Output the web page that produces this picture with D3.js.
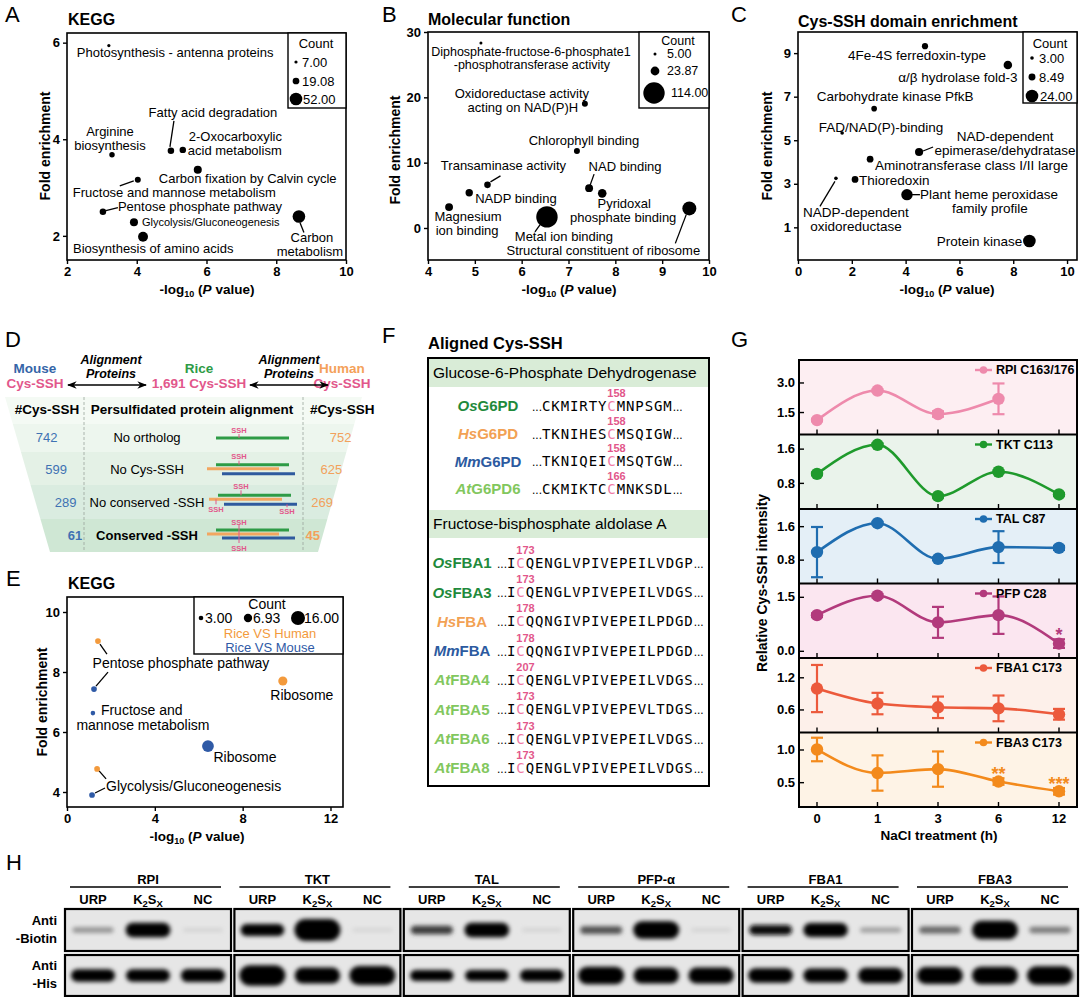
<!DOCTYPE html>
<html>
<head>
<meta charset="utf-8">
<script src="https://cdn.jsdelivr.net/npm/d3@7/dist/d3.min.js"></script>
<style>
  body { margin: 0; background: #fff; }
  svg { display: block; }
</style>
</head>
<body>
<svg id="fig" width="1080" height="997"></svg>
<script>
// ---------- data ----------
// A: KEGG enrichment of rice Cys-SSH proteins
const keggTerms = ['Photosynthesis - antenna proteins', 'Arginine biosynthesis', 'Fatty acid degradation',
  '2-Oxocarboxylic acid metabolism', 'Carbon fixation by Calvin cycle', 'Fructose and mannose metabolism',
  'Pentose phosphate pathway', 'Glycolysis/Gluconeogenesis', 'Biosynthesis of amino acids', 'Carbon metabolism'];
const keggLogP = [3.20, 3.29, 4.98, 5.32, 5.75, 4.03, 3.03, 3.92, 4.18, 8.65];
const keggFold = [5.94, 3.68, 3.76, 3.78, 3.37, 3.16, 2.50, 2.28, 1.98, 2.40];
const keggCount = [7, 14, 18, 18, 25, 16, 18, 25, 35, 52];
const keggLegend = [7.00, 19.08, 52.00];

// B: molecular function
const mfTerms = ['Diphosphate-fructose-6-phosphate1-phosphotransferase activity', 'Oxidoreductase activity acting on NAD(P)H',
  'Chlorophyll binding', 'Transaminase activity', 'NADP binding', 'Magnesium ion binding', 'Metal ion binding',
  'NAD binding', 'Pyridoxal phosphate binding', 'Structural constituent of ribosome'];
const mfLogP = [5.13, 7.35, 7.18, 5.27, 4.88, 4.45, 6.54, 7.44, 7.72, 9.58];
const mfFold = [28.3, 19.0, 11.8, 6.6, 5.4, 3.2, 1.7, 6.1, 5.3, 3.0];
const mfCount = [5, 13, 13, 15, 18, 20, 114, 20, 23, 53];
const mfLegend = [5.00, 23.87, 114.00];

// C: Cys-SSH domain enrichment
const domTerms = ['4Fe-4S ferredoxin-type', 'α/β hydrolase fold-3', 'Carbohydrate kinase PfkB', 'FAD/NAD(P)-binding',
  'NAD-dependent epimerase/dehydratase', 'Aminotransferase class I/II large', 'Thioredoxin',
  'NADP-dependent oxidoreductase', 'Plant heme peroxidase family profile', 'Protein kinase'];
const domLogP = [4.72, 7.80, 2.83, 1.64, 4.50, 2.68, 2.12, 1.41, 4.05, 8.60];
const domFold = [9.32, 8.45, 6.45, 5.33, 4.46, 4.13, 3.20, 3.25, 2.50, 0.37];
const domCount = [7, 12, 6, 3, 11, 8, 8, 3, 20, 24];
const domLegend = [3.00, 8.49, 24.00];

// D: alignment of persulfidated proteins
const alignClasses = ['No ortholog', 'No Cys-SSH', 'No conserved -SSH', 'Conserved -SSH'];
const mouseCysSSH = [742, 599, 289, 61];
const humanCysSSH = [752, 625, 269, 45];

// E: KEGG of conserved Cys-SSH
const eTerms = ['Pentose phosphate pathway', 'Fructose and mannose metabolism', 'Ribosome', 'Glycolysis/Gluconeogenesis'];
const humanLogP = [1.41, null, 9.83, 1.37];
const humanFold = [9.03, null, 7.70, 4.77];
const humanCount = [4, null, 8, 4];
const mouseLogP = [1.23, 1.18, 6.42, 1.14];
const mouseFold = [7.43, 6.63, 5.53, 3.90];
const mouseCount = [4, 3, 12, 4];
const eLegend = [3.00, 6.93, 16.00];

// F: aligned Cys-SSH sites
const g6pdNames = ['OsG6PD', 'HsG6PD', 'MmG6PD', 'AtG6PD6'];
const g6pdBefore = ['CKMIRTY', 'TKNIHES', 'TKNIQEI', 'CKMIKTC'];
const g6pdAfter = ['MNPSGM', 'MSQIGW', 'MSQTGW', 'MNKSDL'];
const g6pdSite = [158, 158, 158, 166];
const fbaNames = ['OsFBA1', 'OsFBA3', 'HsFBA', 'MmFBA', 'AtFBA4', 'AtFBA5', 'AtFBA6', 'AtFBA8'];
const fbaBefore = ['I', 'I', 'I', 'I', 'I', 'I', 'I', 'I'];
const fbaAfter = ['QENGLVPIVEPEILVDGP', 'QENGLVPIVEPEILVDGS', 'QQNGIVPIVEPEILPDGD', 'QQNGIVPIVEPEILPDGD',
  'QENGLVPIVEPEILVDGS', 'QENGLVPIVEPEVLTDGS', 'QENGLVPIVEPEILVDGS', 'QENGLVPIVEPEILVDGS'];
const fbaSite = [173, 173, 178, 178, 207, 173, 173, 173];

// G: relative Cys-SSH intensity under NaCl
const naclHours = ['0', '1', '3', '6', '12'];
const rpiMean = [1.09, 2.59, 1.40, 2.17, null];
const rpiErr = [0.06, 0.06, 0.14, 0.78, null];
const tktMean = [1.01, 1.69, 0.49, 1.06, 0.53];
const tktErr = [0.03, 0.03, 0.03, 0.03, 0.03];
const talMean = [0.98, 1.67, 0.82, 1.10, 1.08];
const talErr = [0.60, 0.03, 0.03, 0.38, 0.05];
const pfpMean = [0.99, 1.53, 0.79, 0.99, 0.20];
const pfpErr = [0.05, 0.05, 0.43, 0.52, 0.12];
const pfpSig = ['', '', '', '', '*'];
const fba1Mean = [0.99, 0.71, 0.64, 0.62, 0.51];
const fba1Err = [0.44, 0.20, 0.20, 0.24, 0.10];
const fba3Mean = [1.00, 0.64, 0.70, 0.51, 0.36];
const fba3Err = [0.18, 0.27, 0.27, 0.05, 0.05];
const fba3Sig = ['', '', '', '**', '***'];

// H: western blots (relative band amount per lane)
const blotTargets = ['RPI', 'TKT', 'TAL', 'PFP-α', 'FBA1', 'FBA3'];
const blotLanes = ['URP', 'K2SX', 'NC'];
const biotinBands = [[0.35, 1.6, 0.06], [1.2, 2.6, 0.05], [0.75, 1.6, 0.06], [0.65, 2.0, 0.06], [0.95, 1.5, 0.3], [0.55, 2.1, 0.45]];
const hisBands = [[1.3, 1.3, 1.4], [2.4, 1.8, 2.2], [1.1, 1.1, 1.2], [2.0, 1.8, 1.8], [1.6, 1.5, 1.7], [1.9, 2.0, 2.1]];

// ---------- setup ----------
const FONT = '"Liberation Sans", Arial, Helvetica, sans-serif';
const MONO = '"DejaVu Sans Mono", "Liberation Mono", monospace';
const PINK = '#e2578b';
const svg = d3.select('#fig').attr('font-family', FONT);
const defs = svg.append('defs');

defs.append('marker').attr('id', 'arrowhead')
  .attr('viewBox', '0 0 10 10').attr('refX', 9).attr('refY', 5)
  .attr('markerWidth', 6).attr('markerHeight', 6).attr('orient', 'auto-start-reverse')
  .append('path').attr('d', 'M0,1 L10,5 L0,9 L3,5 Z').attr('fill', '#000');

defs.append('filter').attr('id', 'blur')
  .attr('x', '-50%').attr('y', '-150%').attr('width', '200%').attr('height', '400%')
  .append('feGaussianBlur').attr('stdDeviation', 2.2);

function styleAxis(a) {
  a.attr('font-family', FONT).attr('font-size', 13).attr('font-weight', 'bold');
  a.select('.domain').remove();
  a.selectAll('.tick line').attr('stroke', '#000').attr('stroke-width', 1.4);
  a.selectAll('.tick text').attr('fill', '#000');
}

function letter(ch, x, y) {
  svg.append('text').attr('x', x).attr('y', y).attr('font-size', 22).text(ch);
}

function pvalTitle(g, x, y) {
  const t = g.append('text').attr('x', x).attr('y', y).attr('text-anchor', 'middle')
    .attr('font-weight', 'bold').attr('font-size', 13.5);
  t.append('tspan').text('-log');
  t.append('tspan').attr('font-size', 9).attr('dy', 3).text('10');
  t.append('tspan').attr('dy', -3).text(' (');
  t.append('tspan').attr('font-style', 'italic').text('P');
  t.append('tspan').text(' value)');
}

function vTitle(g, x, y, txt) {
  g.append('text').attr('transform', `translate(${x},${y}) rotate(-90)`)
    .attr('text-anchor', 'middle').attr('dy', '0.35em')
    .attr('font-weight', 'bold').attr('font-size', 14).text(txt);
}

// bubble chart used by A, B, C and E
function bubblePanel(cfg) {
  const g = svg.append('g');
  const [x0, y0, x1, y1] = cfg.box;
  const x = d3.scaleLinear().domain(cfg.xDomain).range([x0, x1]);
  const y = d3.scaleLinear().domain(cfg.yDomain).range([y1, y0]);
  const r = d3.scaleSqrt().domain(cfg.rDomain).range(cfg.rRange);

  g.append('g').attr('transform', `translate(0,${y1})`)
    .call(d3.axisBottom(x).tickValues(cfg.xTicks).tickSize(4).tickPadding(3).tickFormat(d3.format('d')))
    .call(styleAxis);
  g.append('g').attr('transform', `translate(${x0},0)`)
    .call(d3.axisLeft(y).tickValues(cfg.yTicks).tickSize(4).tickPadding(3).tickFormat(d3.format('d')))
    .call(styleAxis);
  g.append('rect').attr('x', x0).attr('y', y0).attr('width', x1 - x0).attr('height', y1 - y0)
    .attr('fill', 'none').attr('stroke', '#000').attr('stroke-width', 1.6);

  g.append('text').attr('x', cfg.titleAt[0]).attr('y', cfg.titleAt[1])
    .attr('font-weight', 'bold').attr('font-size', 16).text(cfg.title);
  pvalTitle(g, cfg.xTitleAt[0], cfg.xTitleAt[1]);
  vTitle(g, cfg.yTitleAt[0], cfg.yTitleAt[1], 'Fold enrichment');

  // leader lines
  cfg.notes.filter(n => n.lead).forEach(n => {
    const s = cfg.series[n.s || 0];
    const px = x(s.x[n.i]), py = y(s.y[n.i]);
    g.append('line').attr('x1', px + n.lead[0]).attr('y1', py + n.lead[1])
      .attr('x2', px + n.lead[2]).attr('y2', py + n.lead[3])
      .attr('stroke', '#000').attr('stroke-width', 1.3);
  });

  cfg.series.forEach(s => {
    const idx = d3.range(s.x.length).filter(i => s.x[i] != null);
    g.selectAll(null).data(idx).join('circle')
      .attr('cx', i => x(s.x[i])).attr('cy', i => y(s.y[i])).attr('r', i => r(s.n[i]))
      .attr('fill', s.color);
  });

  // legend
  const L = cfg.legend;
  g.append('rect').attr('x', L.box[0]).attr('y', L.box[1])
    .attr('width', L.box[2] - L.box[0]).attr('height', L.box[3] - L.box[1])
    .attr('fill', '#fff').attr('stroke', '#000').attr('stroke-width', 1.4);
  g.append('text').attr('x', L.countAt[0]).attr('y', L.countAt[1]).attr('dy', '0.35em')
    .attr('text-anchor', 'middle').attr('font-size', L.size).text('Count');
  L.values.forEach((v, k) => {
    const dx = L.dotX[k], dy = L.rowY[k];
    g.append('circle').attr('cx', dx).attr('cy', dy).attr('r', r(v)).attr('fill', '#000');
    g.append('text').attr('x', L.textX[k]).attr('y', dy).attr('dy', '0.35em')
      .attr('font-size', L.size).text(d3.format('.2f')(v));
  });
  (L.keys || []).forEach(k => {
    g.append('text').attr('x', k.at[0]).attr('y', k.at[1]).attr('dy', '0.35em')
      .attr('text-anchor', 'middle').attr('font-size', L.keySize || L.size).attr('fill', k.color).text(k.text);
  });

  cfg.notes.forEach(n => {
    const s = cfg.series[n.s || 0];
    const px = x(s.x[n.i]), py = y(s.y[n.i]);
    n.lines.forEach(([t, dx, dy, anchor]) => {
      g.append('text').attr('x', px + dx).attr('y', py + dy).attr('dy', '0.35em')
        .attr('text-anchor', anchor || 'middle').attr('font-size', n.size || cfg.labelSize).text(t);
    });
  });
  return g;
}

// ---------- A ----------
letter('A', 5, 22);
bubblePanel({
  box: [67, 33, 346, 260], xDomain: [2, 10], yDomain: [1.5, 6.2],
  xTicks: [2, 4, 6, 8, 10], yTicks: [2, 4, 6], rDomain: [7, 52], rRange: [1.6, 6.3],
  title: 'KEGG', titleAt: [68, 25], xTitleAt: [207, 294], yTitleAt: [45, 146], labelSize: 13,
  series: [{ x: keggLogP, y: keggFold, n: keggCount, color: '#000' }],
  notes: [
    { i: 0, lines: [['Photosynthesis - antenna proteins', -32, 7, 'start']] },
    { i: 1, lines: [['Arginine', -2, -23], ['biosynthesis', -2, -9]] },
    { i: 2, lines: [['Fatty acid degradation', 42, -38]], lead: [-1, -4, 3, -30] },
    { i: 3, lines: [['2-Oxocarboxylic', 6, -13, 'start'], ['acid metabolism', 5, 1, 'start']] },
    { i: 4, lines: [['Carbon fixation by Calvin cycle', -39, 9, 'start']] },
    { i: 5, lines: [['Fructose and mannose metabolism', -65, 13, 'start']], lead: [-4, 1, -18, 6] },
    { i: 6, lines: [['Pentose phosphate pathway', 15, -5, 'start']], lead: [3, -1, 15, -4] },
    { i: 7, lines: [['Glycolysis/Gluconeogenesis', 8, 0, 'start']], size: 11 },
    { i: 8, lines: [['Biosynthesis of amino acids', -70, 12, 'start']] },
    { i: 9, lines: [['Carbon', 13, 21], ['metabolism', 11, 35]], lead: [1, 6, 5, 16] }
  ],
  legend: { box: [288, 33, 346, 108], countAt: [316, 43], size: 13, values: keggLegend,
    rowY: [62, 81, 99], dotX: [296, 296, 296], textX: [302, 302, 303] }
});

// ---------- B ----------
letter('B', 382, 22);
bubblePanel({
  box: [428, 32, 709, 260], xDomain: [4, 10], yDomain: [-4.9, 30],
  xTicks: [4, 5, 6, 7, 8, 9, 10], yTicks: [0, 10, 20, 30], rDomain: [5, 114], rRange: [1.5, 10.7],
  title: 'Molecular function', titleAt: [428, 25], xTitleAt: [569, 294], yTitleAt: [395, 150], labelSize: 13,
  series: [{ x: mfLogP, y: mfFold, n: mfCount, color: '#000' }],
  notes: [
    { i: 0, lines: [['Diphosphate-fructose-6-phosphate1', 50, 9], ['-phosphotransferase activity', 51, 22]], size: 12.5 },
    { i: 1, lines: [['Oxidoreductase activity', -63, -10], ['acting on NAD(P)H', -62, 4]] },
    { i: 2, lines: [['Chlorophyll binding', 7, -10]] },
    { i: 3, lines: [['Transaminase activity', 16, -19]], lead: [3, -3, 13, -9] },
    { i: 4, lines: [['NADP binding', 6, 6, 'start']] },
    { i: 5, lines: [['Magnesium', 19, 9], ['ion binding', 18, 23]] },
    { i: 6, lines: [['Metal ion binding', 17, 20]], lead: [-7, 8, -12, 15] },
    { i: 7, lines: [['NAD binding', 36, -22]], lead: [1, -3, 5, -14] },
    { i: 8, lines: [['Pyridoxal', 22, 10], ['phosphate binding', 21, 24]] },
    { i: 9, lines: [['Structural constituent of ribosome', -86, 42]], lead: [-3, 6, -14, 35] }
  ],
  legend: { box: [639, 32, 709, 108], countAt: [678, 41], size: 12.5, values: mfLegend,
    rowY: [54, 71, 93], dotX: [655, 655, 654], textX: [667, 667, 671] }
});

// ---------- C ----------
letter('C', 731, 22);
bubblePanel({
  box: [798, 32, 1077, 260], xDomain: [0, 10.37], yDomain: [-0.5, 9.97],
  xTicks: [0, 2, 4, 6, 8, 10], yTicks: [1, 3, 5, 7, 9], rDomain: [3, 24], rRange: [1.8, 6.3],
  title: 'Cys-SSH domain enrichment', titleAt: [798, 27], xTitleAt: [947, 294], yTitleAt: [767, 146], labelSize: 13.5,
  series: [{ x: domLogP, y: domFold, n: domCount, color: '#000' }],
  notes: [
    { i: 0, lines: [['4Fe-4S ferredoxin-type', -8, 9]] },
    { i: 1, lines: [['α/β hydrolase fold-3', -50, 12]] },
    { i: 2, lines: [['Carbohydrate kinase PfkB', 21, -12]] },
    { i: 3, lines: [['FAD/NAD(P)-binding', 39, -6]] },
    { i: 4, lines: [['NAD-dependent', 86, -16], ['epimerase/dehydratase', 86, -2]], lead: [4, -1, 14, -5] },
    { i: 5, lines: [['Aminotransferase class I/II large', 5, 6, 'start']] },
    { i: 6, lines: [['Thioredoxin', 4, 1, 'start']] },
    { i: 7, lines: [['NADP-dependent', 20, 34], ['oxidoreductase', 20, 48]], lead: [-1, 3, -16, 28] },
    { i: 8, lines: [['Plant heme peroxidase', 13, 0, 'start'], ['family profile', 83, 14]], lead: [5, 0, 13, 0] },
    { i: 9, lines: [['Protein kinase', -7, 0, 'end']] }
  ],
  legend: { box: [1023, 32, 1077, 103], countAt: [1050, 43], size: 13, values: domLegend,
    rowY: [58, 77, 96], dotX: [1032, 1032, 1032], textX: [1039, 1039, 1040] }
});

// ---------- D ----------
letter('D', 5, 347);
(function () {
  const g = svg.append('g');
  const top = 397, bot = 552;
  const leftEdge = d3.scaleLinear().domain([top, bot]).range([5, 50]);
  const rightEdge = d3.scaleLinear().domain([top, bot]).range([362, 318]);
  const bandsY = [397, 424, 452, 485, 519, 552];
  const bandFill = ['#f4faf4', '#edf6ee', '#e4f1e6', '#daece0', '#cfe7d4'];
  bandFill.forEach((f, k) => {
    const a = bandsY[k], b = bandsY[k + 1];
    g.append('polygon')
      .attr('points', [[leftEdge(a), a], [rightEdge(a), a], [rightEdge(b), b], [leftEdge(b), b]].join(' '))
      .attr('fill', f);
  });
  [84, 303].forEach(xv => g.append('line').attr('x1', xv).attr('x2', xv).attr('y1', top).attr('y2', bot)
    .attr('stroke', '#9aa59c').attr('stroke-width', 0.8).attr('stroke-dasharray', '3,2'));

  // header with species
  const head = [
    { x: 35, name: 'Mouse', sub: 'Cys-SSH', color: '#3565a8' },
    { x: 199, name: 'Rice', sub: '1,691 Cys-SSH', color: '#2e9b46' },
    { x: 342, name: 'Human', sub: 'Cys-SSH', color: '#f4a15a' }
  ];
  head.forEach(h => {
    g.append('text').attr('x', h.x).attr('y', 368).attr('dy', '0.35em').attr('text-anchor', 'middle')
      .attr('font-weight', 'bold').attr('font-size', 13.5).attr('fill', h.color).text(h.name);
    g.append('text').attr('x', h.x).attr('y', 383).attr('dy', '0.35em').attr('text-anchor', 'middle')
      .attr('font-weight', 'bold').attr('font-size', 13.5).attr('fill', PINK).text(h.sub);
  });
  [[111, 68, 146], [289, 250, 328]].forEach(([cx, a, b]) => {
    g.append('text').attr('x', cx).attr('y', 360).attr('dy', '0.35em').attr('text-anchor', 'middle')
      .attr('font-weight', 'bold').attr('font-style', 'italic').attr('font-size', 12.5).text('Alignment');
    g.append('text').attr('x', cx).attr('y', 374).attr('dy', '0.35em').attr('text-anchor', 'middle')
      .attr('font-weight', 'bold').attr('font-style', 'italic').attr('font-size', 12.5).text('Proteins');
    g.append('line').attr('x1', a).attr('x2', b).attr('y1', 385).attr('y2', 385)
      .attr('stroke', '#000').attr('stroke-width', 1.6)
      .attr('marker-start', 'url(#arrowhead)').attr('marker-end', 'url(#arrowhead)');
  });

  g.append('text').attr('x', 47).attr('y', 409).attr('dy', '0.35em').attr('text-anchor', 'middle')
    .attr('font-weight', 'bold').attr('font-size', 13.5).text('#Cys-SSH');
  g.append('text').attr('x', 192).attr('y', 409).attr('dy', '0.35em').attr('text-anchor', 'middle')
    .attr('font-weight', 'bold').attr('font-size', 13.5).text('Persulfidated protein alignment');
  g.append('text').attr('x', 310).attr('y', 409).attr('dy', '0.35em')
    .attr('font-weight', 'bold').attr('font-size', 13.5).text('#Cys-SSH');

  const rowY = d3.scalePoint().domain(alignClasses).range([437, 535]);
  alignClasses.forEach((c, k) => {
    const cy = rowY(c);
    const strong = k === 3 ? 'bold' : 'normal';
    g.append('text').attr('x', leftEdge(cy) + 30).attr('y', cy).attr('dy', '0.35em').attr('text-anchor', 'middle')
      .attr('font-size', 13).attr('font-weight', strong).attr('fill', '#3f72b3').text(mouseCysSSH[k]);
    g.append('text').attr('x', rightEdge(cy) - 10).attr('y', cy).attr('dy', '0.35em').attr('text-anchor', 'middle')
      .attr('font-size', 13).attr('font-weight', strong).attr('fill', '#f2a15c').text(humanCysSSH[k]);
    g.append('text').attr('x', 147).attr('y', cy).attr('dy', '0.35em').attr('text-anchor', 'middle')
      .attr('font-size', 13).attr('font-weight', strong).text(c);
  });

  // schematic alignment bars
  const barCol = { r: '#2e9b46', h: '#f2a660', m: '#2f5a9e' };
  const bar = (col, xa, xb, yv) => g.append('line').attr('x1', xa).attr('x2', xb).attr('y1', yv).attr('y2', yv)
    .attr('stroke', barCol[col]).attr('stroke-width', 3);
  const ssh = (xv, yTxt, ya, yb) => {
    g.append('line').attr('x1', xv).attr('x2', xv).attr('y1', ya).attr('y2', yb).attr('stroke', PINK).attr('stroke-width', 1);
    g.append('text').attr('x', xv).attr('y', yTxt).attr('dy', '0.35em').attr('text-anchor', 'middle')
      .attr('font-size', 7.5).attr('font-weight', 'bold').attr('fill', PINK).text('SSH');
  };
  let cy = rowY(alignClasses[0]);
  bar('r', 216, 289, cy + 1); ssh(239, cy - 7, cy - 3, cy + 1);
  cy = rowY(alignClasses[1]);
  bar('r', 216, 289, cy - 5); bar('h', 207, 279, cy - 1); bar('m', 222, 295, cy + 4); ssh(239, cy - 13, cy - 9, cy - 5);
  cy = rowY(alignClasses[2]);
  bar('r', 218, 291, cy - 7); bar('h', 209, 282, cy - 3); bar('m', 224, 297, cy + 2);
  ssh(241, cy - 16, cy - 12, cy - 7); ssh(216, cy + 7, cy - 3, cy + 2); ssh(287, cy + 9, cy + 2, cy + 5);
  cy = rowY(alignClasses[3]);
  bar('r', 216, 289, cy - 5); bar('h', 207, 279, cy - 1); bar('m', 222, 295, cy + 3);
  ssh(239, cy - 13, cy - 10, cy + 8); ssh(239, cy + 13, cy + 8, cy + 8);
})();

// ---------- E ----------
letter('E', 6, 586);
bubblePanel({
  box: [67, 597, 343, 807], xDomain: [0, 12.57], yDomain: [3.5, 10.5],
  xTicks: [0, 4, 8, 12], yTicks: [4, 6, 8, 10], rDomain: [3, 16], rRange: [2.3, 7],
  title: 'KEGG', titleAt: [68, 589], xTitleAt: [197, 841], yTitleAt: [42, 702], labelSize: 14,
  series: [
    { x: humanLogP, y: humanFold, n: humanCount, color: '#f39a3c' },
    { x: mouseLogP, y: mouseFold, n: mouseCount, color: '#2f5aa6' }
  ],
  notes: [
    { s: 0, i: 0, lines: [['Pentose phosphate pathway', 83, 22]], lead: [2, 3, 9, 13] },
    { s: 1, i: 0, lines: [], lead: [2, -3, 14, -17] },
    { s: 1, i: 1, lines: [['Fructose and', 8, -3, 'start'], ['mannose metabolism', 50, 12]] },
    { s: 0, i: 2, lines: [['Ribosome', 19, 14]] },
    { s: 1, i: 2, lines: [['Ribosome', 37, 11]] },
    { s: 0, i: 3, lines: [['Glycolysis/Gluconeogenesis', 9, 17, 'start']], lead: [2, 2, 9, 10] },
    { s: 1, i: 3, lines: [], lead: [3, -2, 13, -7] }
  ],
  legend: { box: [194, 597, 343, 654], countAt: [267, 604], size: 14, keySize: 13, values: eLegend,
    rowY: [618, 618, 618], dotX: [201, 248, 298], textX: [205, 253, 304],
    keys: [{ text: 'Rice VS Human', color: '#f39a3c', at: [270, 633] },
           { text: 'Rice VS Mouse', color: '#2f5aa6', at: [270, 647] }] }
});

// ---------- F ----------
letter('F', 382, 343);
(function () {
  const g = svg.append('g');
  const spColor = { Os: '#1f8a3c', Hs: '#f2a154', Mm: '#2c5aa0', At: '#82c75e' };
  g.append('text').attr('x', 428).attr('y', 349).attr('font-weight', 'bold').attr('font-size', 16.5).text('Aligned Cys-SSH');
  g.append('rect').attr('x', 428).attr('y', 358).attr('width', 281).attr('height', 428)
    .attr('fill', '#fff').attr('stroke', '#000').attr('stroke-width', 2);
  [[359, 'Glucose-6-Phosphate Dehydrogenase'], [510, 'Fructose-bisphosphate aldolase A']].forEach(([yv, t]) => {
    g.append('rect').attr('x', 429).attr('y', yv).attr('width', 279).attr('height', 28).attr('fill', '#d9ecd7');
    g.append('text').attr('x', 433).attr('y', yv + 14).attr('dy', '0.35em').attr('font-size', 15.5).text(t);
  });

  function nameLabel(x, y, name) {
    const t = g.append('text').attr('x', x).attr('y', y).attr('dy', '0.35em').attr('text-anchor', 'middle')
      .attr('font-weight', 'bold').attr('font-size', 15).attr('fill', spColor[name.slice(0, 2)]);
    t.append('tspan').attr('font-style', 'italic').text(name.slice(0, 2));
    t.append('tspan').text(name.slice(2));
  }
  function seqLine(x, y, before, after, site) {
    const t = g.append('text').attr('x', x).attr('y', y).attr('dy', '0.35em')
      .attr('font-size', 14).attr('letter-spacing', 0.9);
    t.append('tspan').attr('font-family', FONT).attr('font-size', 12).attr('letter-spacing', 0).text('...');
    t.append('tspan').attr('font-family', MONO).text(before);
    t.append('tspan').attr('font-family', MONO).attr('fill', '#f07ba6').text('C');
    t.append('tspan').attr('font-family', MONO).text(after);
    t.append('tspan').attr('font-family', FONT).attr('font-size', 12).attr('letter-spacing', 0).text('...');
    const box = t.node().getExtentOfChar(3 + before.length);
    g.append('text').attr('x', box.x).attr('y', y - 13).attr('dy', '0.35em')
      .attr('font-weight', 'bold').attr('font-size', 11).attr('fill', PINK).text(site);
  }
  const gy = d3.scalePoint().domain(g6pdNames).range([406, 489]);
  g6pdNames.forEach((n, k) => {
    nameLabel(488, gy(n), n);
    seqLine(532, gy(n), g6pdBefore[k], g6pdAfter[k], g6pdSite[k]);
  });
  const fy = d3.scalePoint().domain(fbaNames).range([563, 768]);
  fbaNames.forEach((n, k) => {
    nameLabel(462, fy(n), n);
    seqLine(497, fy(n), fbaBefore[k], fbaAfter[k], fbaSite[k]);
  });
})();

// ---------- G ----------
letter('G', 731, 347);
(function () {
  const g = svg.append('g');
  const panels = [
    { label: 'RPI C163/176', mean: rpiMean, err: rpiErr, color: '#ee8aac', bg: '#fdeef2', domain: [0.36, 4.14], ticks: [1.5, 3.0] },
    { label: 'TKT C113', mean: tktMean, err: tktErr, color: '#1f9a2c', bg: '#eaf3eb', domain: [0.19, 1.93], ticks: [0.8, 1.6] },
    { label: 'TAL C87', mean: talMean, err: talErr, color: '#1f6db0', bg: '#e4eff7', domain: [0.23, 2.01], ticks: [0.8, 1.6] },
    { label: 'PFP C28', mean: pfpMean, err: pfpErr, sig: pfpSig, color: '#b23a7c', bg: '#fbe6f0', domain: [-0.2, 1.87], ticks: [0, 1.5] },
    { label: 'FBA1 C173', mean: fba1Mean, err: fba1Err, color: '#ec5a3c', bg: '#fdf0ea', domain: [0.17, 1.56], ticks: [0.6, 1.2] },
    { label: 'FBA3 C173', mean: fba3Mean, err: fba3Err, sig: fba3Sig, color: '#f38a1c', bg: '#fef3e6', domain: [0.12, 1.26], ticks: [0.5, 1.0] }
  ];
  const left = 799, right = 1077, top0 = 360, h = 74.5;
  const x = d3.scalePoint().domain(naclHours).range([817, 1059]);

  panels.forEach((p, k) => {
    const top = top0 + k * h, bot = top + h;
    const y = d3.scaleLinear().domain(p.domain).range([bot, top]);
    g.append('rect').attr('x', left).attr('y', top).attr('width', right - left).attr('height', h).attr('fill', p.bg);
    g.append('g').attr('transform', `translate(${left},0)`)
      .call(d3.axisLeft(y).tickValues(p.ticks).tickSizeInner(-5).tickSizeOuter(0).tickPadding(4).tickFormat(d3.format('.1f')))
      .call(styleAxis);
    g.selectAll(null).data(naclHours).join('line')
      .attr('x1', d => x(d)).attr('x2', d => x(d)).attr('y1', bot).attr('y2', bot - 5)
      .attr('stroke', '#000').attr('stroke-width', 1.4);

    const pts = naclHours.map((d, i) => ({ d, m: p.mean[i], e: p.err[i], s: p.sig ? p.sig[i] : '' }))
      .filter(q => q.m != null);
    g.append('path').datum(pts)
      .attr('d', d3.line().x(q => x(q.d)).y(q => y(q.m)).curve(d3.curveMonotoneX))
      .attr('fill', 'none').attr('stroke', p.color).attr('stroke-width', 2.6);
    const eb = g.selectAll(null).data(pts).join('g').attr('stroke', p.color).attr('stroke-width', 2.2);
    eb.append('line').attr('x1', q => x(q.d)).attr('x2', q => x(q.d))
      .attr('y1', q => y(q.m - q.e)).attr('y2', q => y(q.m + q.e));
    eb.append('line').attr('x1', q => x(q.d) - 6).attr('x2', q => x(q.d) + 6)
      .attr('y1', q => y(q.m - q.e)).attr('y2', q => y(q.m - q.e));
    eb.append('line').attr('x1', q => x(q.d) - 6).attr('x2', q => x(q.d) + 6)
      .attr('y1', q => y(q.m + q.e)).attr('y2', q => y(q.m + q.e));
    g.selectAll(null).data(pts).join('circle')
      .attr('cx', q => x(q.d)).attr('cy', q => y(q.m)).attr('r', 6.2).attr('fill', p.color);
    g.selectAll(null).data(pts.filter(q => q.s)).join('text')
      .attr('x', q => x(q.d)).attr('y', q => y(q.m + q.e) + 2).attr('text-anchor', 'middle')
      .attr('font-size', 18).attr('font-weight', 'bold').attr('fill', p.color).text(q => q.s);

    // legend
    g.append('line').attr('x1', 975).attr('x2', 992).attr('y1', top + 10).attr('y2', top + 10)
      .attr('stroke', p.color).attr('stroke-width', 2.4);
    g.append('circle').attr('cx', 983.5).attr('cy', top + 10).attr('r', 3.8).attr('fill', p.color);
    g.append('text').attr('x', 996).attr('y', top + 10).attr('dy', '0.35em')
      .attr('font-weight', 'bold').attr('font-size', 12.5).text(p.label);
    if (k > 0) g.append('line').attr('x1', left).attr('x2', right).attr('y1', top).attr('y2', top)
      .attr('stroke', '#000').attr('stroke-width', 2);
  });
  g.append('rect').attr('x', left).attr('y', top0).attr('width', right - left).attr('height', h * panels.length)
    .attr('fill', 'none').attr('stroke', '#000').attr('stroke-width', 2);

  const bottom = top0 + h * panels.length;
  g.selectAll(null).data(naclHours).join('text')
    .attr('x', d => x(d)).attr('y', bottom + 11).attr('dy', '0.35em').attr('text-anchor', 'middle')
    .attr('font-weight', 'bold').attr('font-size', 13).text(d => d);
  g.append('text').attr('x', 939).attr('y', 835).attr('dy', '0.35em').attr('text-anchor', 'middle')
    .attr('font-weight', 'bold').attr('font-size', 13.5).text('NaCl treatment (h)');
  vTitle(g, 762, 583, 'Relative Cys-SSH intensity');
})();

// ---------- H ----------
letter('H', 6, 870);
(function () {
  const g = svg.append('g');
  const grp = d3.scaleBand().domain(blotTargets).range([65, 1078]).paddingInner(0.02);
  const lane = d3.scalePoint().domain(blotLanes).range([28, 138]);
  const shade = d3.scaleLinear().domain([0, 1]).range(['#dedede', '#060606']).clamp(true);
  const thick = d3.scaleLinear().domain([0, 2.6]).range([3, 22]);
  const rows = [{ y0: 909, y1: 951, bands: biotinBands }, { y0: 955, y1: 996, bands: hisBands }];

  blotTargets.forEach((t, k) => {
    const gx = grp(t), w = grp.bandwidth();
    g.append('text').attr('x', gx + w / 2).attr('y', 879).attr('dy', '0.35em').attr('text-anchor', 'middle')
      .attr('font-weight', 'bold').attr('font-size', 13).text(t);
    g.append('line').attr('x1', gx + 5).attr('x2', gx + w - 10).attr('y1', 887).attr('y2', 887)
      .attr('stroke', '#000').attr('stroke-width', 1.4);
    blotLanes.forEach(l => {
      const t2 = g.append('text').attr('x', gx + lane(l)).attr('y', 899).attr('dy', '0.35em')
        .attr('text-anchor', 'middle').attr('font-weight', 'bold').attr('font-size', 13);
      if (l === 'K2SX') {
        t2.append('tspan').text('K');
        t2.append('tspan').attr('font-size', 9.5).attr('dy', 3).text('2');
        t2.append('tspan').attr('dy', -3).text('S');
        t2.append('tspan').attr('font-size', 9.5).attr('dy', 3).text('X');
      } else t2.text(l);
    });
    rows.forEach(r => {
      g.append('rect').attr('x', gx).attr('y', r.y0).attr('width', w).attr('height', r.y1 - r.y0)
        .attr('fill', '#e6e6e6');
      const cyv = (r.y0 + r.y1) / 2;
      blotLanes.forEach((l, j) => {
        const a = r.bands[k][j], th = thick(a), bw = 40 + Math.min(a, 2) * 3;
        g.append('rect').attr('x', gx + lane(l) - bw / 2).attr('y', cyv - th / 2)
          .attr('width', bw).attr('height', th).attr('rx', th / 2)
          .attr('fill', shade(a)).attr('filter', 'url(#blur)');
      });
      g.append('rect').attr('x', gx).attr('y', r.y0).attr('width', w).attr('height', r.y1 - r.y0)
        .attr('fill', 'none').attr('stroke', '#000').attr('stroke-width', 2.2);
    });
  });
  [['Anti', 920], ['-Biotin', 938], ['Anti', 965], ['-His', 983]].forEach(([t, yv]) => {
    g.append('text').attr('x', 57).attr('y', yv).attr('dy', '0.35em').attr('text-anchor', 'end')
      .attr('font-weight', 'bold').attr('font-size', 13).text(t);
  });
})();
</script>
</body>
</html>
